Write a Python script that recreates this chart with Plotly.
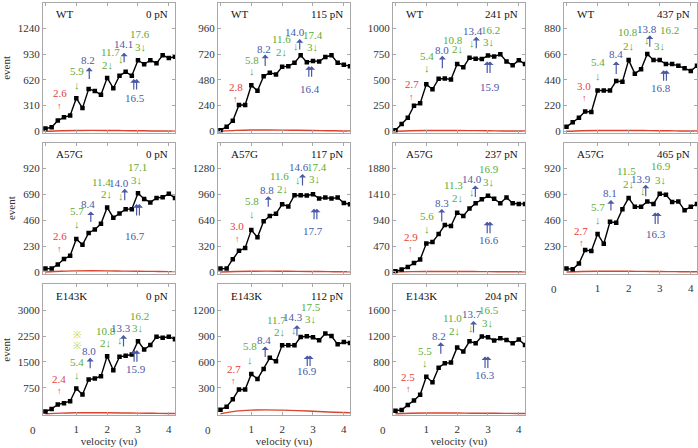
import plotly.graph_objects as go

# ---------------- data ----------------
velocity = [0.0, 0.2, 0.4, 0.6, 0.8, 1.0, 1.2, 1.4, 1.6, 1.8, 2.0, 2.2,
            2.4, 2.6, 2.8, 3.0, 3.2, 3.4, 3.6, 3.8, 4.0, 4.2]
red_velocity = [0.0, 0.5, 1.0, 1.5, 2.0, 2.5, 3.0, 3.5, 4.0, 4.2]

wt_0 = [32, 48, 130, 168, 190, 400, 280, 510, 487, 440, 645, 520, 670, 718, 670, 858, 810, 858, 822, 918, 886, 900]
wt_115 = [9, 43, 98, 246, 246, 430, 378, 514, 548, 532, 603, 609, 640, 711, 646, 658, 652, 695, 711, 640, 621, 609]
wt_241 = [10, 70, 131, 249, 272, 457, 409, 511, 514, 505, 655, 623, 716, 706, 703, 738, 728, 750, 680, 642, 693, 655]
wt_437 = [38, 78, 116, 169, 166, 349, 349, 349, 430, 424, 610, 494, 532, 663, 610, 610, 576, 576, 561, 541, 517, 561]
a57g_0 = [30, 30, 66, 115, 145, 293, 242, 347, 378, 429, 574, 483, 520, 559, 559, 701, 650, 619, 659, 665, 695, 659]
a57g_117 = [42, 42, 158, 262, 296, 521, 429, 629, 692, 721, 838, 812, 950, 950, 946, 962, 908, 921, 908, 921, 854, 838]
a57g_237 = [12, 43, 91, 165, 226, 518, 543, 689, 854, 835, 1079, 1018, 1152, 1250, 1323, 1384, 1329, 1250, 1354, 1250, 1238, 1238]
a57g_465 = [30, 24, 75, 196, 187, 338, 251, 447, 438, 559, 659, 580, 580, 628, 604, 695, 686, 622, 628, 550, 580, 604]
e143k_0 = [63, 140, 266, 305, 363, 731, 556, 992, 1021, 1089, 1670, 1263, 1650, 1680, 1718, 2105, 1863, 1990, 2231, 2202, 2231, 2163]
e143k_112 = [47, 82, 168, 281, 281, 461, 402, 520, 648, 609, 793, 793, 793, 890, 898, 887, 852, 930, 902, 805, 832, 820]
e143k_204 = [47, 58, 136, 204, 293, 571, 487, 712, 780, 791, 1026, 963, 1120, 1089, 1194, 1183, 1131, 1168, 1141, 1089, 1147, 1063]

red_wt_0 = [0, 7, 10, 11, 10, 8, 6, 4, 3, 2]
red_wt_115 = [0, 8, 12, 12, 11, 9, 7, 5, 3, 3]
red_wt_241 = [0, 5, 7, 7, 7, 6, 5, 3, 2, 2]
red_wt_437 = [0, 5, 7, 7, 7, 6, 5, 3, 2, 2]
red_a57g_0 = [0, 7, 10, 11, 10, 8, 6, 5, 3, 3]
red_a57g_117 = [0, 6, 9, 10, 9, 8, 6, 4, 3, 3]
red_a57g_237 = [0, 6, 9, 10, 9, 8, 6, 5, 4, 3]
red_a57g_465 = [0, 4, 6, 6, 6, 5, 4, 3, 2, 2]
red_e143k_0 = [0, 18, 26, 28, 26, 22, 16, 12, 8, 6]
red_e143k_112 = [0, 30, 42, 45, 42, 36, 28, 20, 14, 12]
red_e143k_204 = [0, 7, 10, 11, 10, 8, 7, 5, 4, 3]

genotypes = ["WT", "WT", "WT", "WT", "A57G", "A57G", "A57G", "A57G", "E143K", "E143K", "E143K"]
forces = ["0 pN", "115 pN", "241 pN", "437 pN", "0 pN", "117 pN", "237 pN", "465 pN", "0 pN", "112 pN", "204 pN"]
y_tops = [1550, 1200, 1250, 1100, 1150, 1600, 2350, 1150, 3750, 1500, 2000]
y_steps = [310, 240, 250, 220, 230, 320, 470, 230, 750, 300, 400]

# annotation labels: (text, colour key, velocity, event)
labels = [
    [("2.6", "r", 0.47, 463), ("↑", "r", 0.47, 311), ("5.9", "g", 1.01, 730), ("↓", "g", 1.01, 559),
     ("8.2", "b", 1.39, 858), ("11.7", "g", 2.10, 958), ("2↓", "g", 2.02, 806), ("↓", "g", 2.45, 870),
     ("14.1", "b", 2.53, 1049), ("17.6", "g", 3.08, 1177), ("3↓", "g", 3.08, 1018), ("16.5", "b", 2.91, 399)],
    [("2.8", "r", 0.49, 418), ("↑", "r", 0.49, 302), ("5.8", "g", 1.01, 671), ("↓", "g", 1.01, 563),
     ("8.2", "b", 1.42, 772), ("11.6", "g", 1.97, 862), ("2↓", "g", 1.99, 738), ("↓", "g", 2.46, 800),
     ("14.0", "b", 2.42, 926), ("17.4", "g", 3.0, 902), ("3↓", "g", 3.0, 785), ("16.4", "b", 2.91, 400)],
    [("2.7", "r", 0.52, 457), ("↑", "r", 0.52, 329), ("5.4", "g", 1.01, 735), ("↓", "g", 1.01, 617),
     ("8.0", "b", 1.5, 792), ("10.8", "g", 1.86, 888), ("2↓", "g", 2.02, 799), ("↓", "g", 2.48, 863),
     ("13.4", "b", 2.51, 978), ("16.2", "g", 3.08, 990), ("3↓", "g", 3.02, 872), ("15.9", "b", 3.05, 434)],
    [("3.0", "r", 0.57, 387), ("↑", "r", 0.57, 285), ("5.4", "g", 1.03, 590), ("↓", "g", 1.01, 474),
     ("8.4", "b", 1.6, 663), ("10.8", "g", 1.98, 852), ("2↓", "g", 1.98, 727), ("↓", "g", 2.58, 785),
     ("13.8", "b", 2.59, 881), ("16.2", "g", 3.3, 866), ("3↓", "g", 3.0, 735), ("16.8", "b", 3.04, 372)],
    [("2.6", "r", 0.47, 323), ("↑", "r", 0.47, 202), ("5.7", "g", 1.01, 544), ("↓", "g", 1.01, 423),
     ("8.4", "b", 1.39, 604), ("11.4", "g", 1.83, 801), ("2↓", "g", 1.97, 695), ("↓", "g", 2.46, 680),
     ("14.0", "b", 2.37, 792), ("17.1", "g", 2.97, 937), ("3↓", "g", 2.95, 822), ("16.7", "b", 2.89, 317)],
    [("3.0", "r", 0.52, 575), ("↑", "r", 0.54, 408), ("5.8", "g", 1.01, 875), ("↓", "g", 1.01, 721),
     ("8.8", "b", 1.5, 1012), ("11.6", "g", 1.93, 1188), ("2↓", "g", 2.02, 1033), ("↓", "g", 2.51, 1138),
     ("14.6", "b", 2.53, 1296), ("17.4", "g", 3.13, 1296), ("3↓", "g", 3.04, 1146), ("17.7", "b", 3.0, 513)],
    [("2.9", "r", 0.49, 640), ("↑", "r", 0.49, 409), ("5.6", "g", 1.01, 1018), ("↓", "g", 1.01, 774),
     ("8.3", "b", 1.5, 1250), ("11.3", "g", 1.88, 1585), ("2↓", "g", 2.02, 1341), ("↓", "g", 2.48, 1463),
     ("14.0", "b", 2.48, 1695), ("16.9", "g", 3.02, 1872), ("3↓", "g", 3.02, 1634), ("16.6", "b", 3.02, 579)],
    [("2.7", "r", 0.47, 369), ("↑", "r", 0.47, 257), ("5.7", "g", 1.01, 574), ("↓", "g", 1.01, 459),
     ("8.1", "b", 1.41, 701), ("11.5", "g", 1.93, 897), ("2↓", "g", 1.98, 785), ("↓", "g", 2.45, 719),
     ("13.9", "b", 2.39, 831), ("16.9", "g", 3.04, 943), ("3↓", "g", 3.02, 822), ("16.3", "b", 2.88, 338)],
    [("2.4", "r", 0.45, 1021), ("↑", "r", 0.45, 673), ("※", "y", 1.01, 2309), ("※", "y", 1.01, 1989),
     ("5.4", "g", 1.01, 1505), ("↓", "g", 1.01, 1137), ("8.0", "b", 1.42, 1815), ("10.8", "g", 1.95, 2396),
     ("2↓", "g", 1.95, 2038), ("↓", "g", 2.42, 2134), ("13.3", "b", 2.44, 2473), ("3↓", "g", 2.97, 2473),
     ("16.2", "g", 3.05, 2831), ("15.9", "b", 2.92, 1292)],
    [("2.7", "r", 0.43, 520), ("↑", "r", 0.43, 375), ("5.8", "g", 0.96, 781), ("↓", "g", 0.96, 625),
     ("8.4", "b", 1.42, 852), ("11.7", "g", 1.83, 1086), ("2↓", "g", 1.91, 949), ("↓", "g", 2.39, 969),
     ("14.3", "b", 2.35, 1117), ("17.5", "g", 2.93, 1234), ("3↓", "g", 2.91, 1094), ("16.9", "b", 2.8, 492)],
    [("2.5", "r", 0.41, 571), ("↑", "r", 0.41, 382), ("5.5", "g", 0.96, 974), ("↓", "g", 0.96, 791),
     ("8.2", "b", 1.42, 1209), ("11.0", "g", 1.85, 1482), ("2↓", "g", 1.91, 1272), ("↓", "g", 2.46, 1325),
     ("13.7", "b", 2.48, 1539), ("16.5", "g", 3.02, 1602), ("3↓", "g", 2.97, 1408), ("16.3", "b", 2.91, 597)],
]

# blue arrows: (velocity, event at head, length px, double)
blue_arrows = [
    [(1.42, 770, 13, False), (2.55, 950, 11, False), (2.91, 630, 12, True)],
    [(1.45, 717, 13, False), (2.57, 862, 12, False), (2.91, 609, 12, True)],
    [(1.52, 735, 14, False), (2.62, 920, 13, False), (3.02, 680, 13, True)],
    [(1.6, 599, 14, False), (2.68, 823, 13, False), (3.17, 523, 12, True)],
    [(1.47, 538, 12, False), (2.57, 740, 13, False), (3.0, 604, 13, True)],
    [(1.55, 938, 12, False), (2.66, 1213, 13, False), (3.08, 783, 12, True)],
    [(1.5, 1146, 14, False), (2.59, 1573, 13, False), (3.02, 915, 13, True)],
    [(1.43, 640, 12, False), (2.55, 776, 13, False), (2.9, 529, 13, True)],
    [(1.45, 1621, 12, False), (2.53, 2280, 13, False), (2.92, 1844, 13, True)],
    [(1.45, 781, 12, False), (2.48, 1027, 12, False), (2.86, 676, 12, True)],
    [(1.47, 1105, 13, False), (2.53, 1435, 13, False), (2.95, 885, 13, True)],
]

series = [wt_0, wt_115, wt_241, wt_437, a57g_0, a57g_117, a57g_237, a57g_465, e143k_0, e143k_112, e143k_204]
red_series = [red_wt_0, red_wt_115, red_wt_241, red_wt_437, red_a57g_0, red_a57g_117, red_a57g_237,
              red_a57g_465, red_e143k_0, red_e143k_112, red_e143k_204]

# ---------------- layout ----------------
W, H = 698, 448
col_px = [(43, 175), (218, 350), (393, 525), (564, 697)]
row_px = [(3, 134), (144, 276), (287, 419)]
grid_pos = [(0, 0), (0, 1), (0, 2), (0, 3), (1, 0), (1, 1), (1, 2), (1, 3), (2, 0), (2, 1), (2, 2)]
xlabel_panels = {7, 8, 9, 10}

COL = {"r": "#e53f3a", "g": "#5dab38", "b": "#4a5aa6", "y": "#c6d64c"}
FRAME = "#a8a8a8"
FONT = "Liberation Serif, Times New Roman, DejaVu Serif, serif"
TXT = "#333333"

fig = go.Figure()
annotations = []

for i in range(11):
    n = i + 1
    xa = "x" if n == 1 else f"x{n}"
    ya = "y" if n == 1 else f"y{n}"
    r, c = grid_pos[i]
    x0, x1 = col_px[c]
    y0, y1 = row_px[r]
    R, step = y_tops[i], y_steps[i]
    has_xl = i in xlabel_panels

    fig.add_trace(go.Scatter(x=red_velocity, y=red_series[i], xaxis=xa, yaxis=ya, mode="lines",
                             line=dict(color="#d9452f", width=1.4, shape="spline"), hoverinfo="skip"))
    fig.add_trace(go.Scatter(x=velocity, y=series[i], xaxis=xa, yaxis=ya, mode="lines+markers",
                             line=dict(color="black", width=1.4),
                             marker=dict(symbol="square", size=4.5, color="black")))

    fig.layout[f"xaxis{n if n > 1 else ''}"] = dict(
        domain=[x0 / W, x1 / W], anchor=ya, range=[-0.08, 4.2],
        tickvals=[1, 2, 3, 4] if has_xl else [0, 1, 2, 3, 4], showticklabels=has_xl,
        ticks="inside", ticklen=3, tickcolor=FRAME, showline=True, linecolor=FRAME, linewidth=1,
        mirror="ticks", showgrid=False, zeroline=False, ticklabelstandoff=4,
        tickfont=dict(family=FONT, size=11, color=TXT),
        title=dict(text="velocity (vu)" if r == 2 else "", font=dict(family=FONT, size=11, color=TXT),
                   standoff=1),
    )
    yt = [step * k for k in (range(1, 5) if has_xl else range(0, 5))]
    fig.layout[f"yaxis{n if n > 1 else ''}"] = dict(
        domain=[1 - y1 / H, 1 - y0 / H], anchor=xa, range=[-0.012 * R, R],
        tickvals=yt, ticktext=[str(v) for v in yt],
        ticks="inside", ticklen=3, tickcolor=FRAME, showline=True, linecolor=FRAME, linewidth=1,
        mirror="ticks", showgrid=False, zeroline=False,
        tickfont=dict(family=FONT, size=11, color=TXT),
        title=dict(text="event" if c == 0 else "", font=dict(family=FONT, size=11, color=TXT),
                   standoff=5),
    )

    # panel labels
    annotations.append(dict(xref=f"{xa} domain", yref=f"{ya} domain", x=0.08, y=0.915, text=genotypes[i],
                            showarrow=False, xanchor="left", yanchor="middle",
                            font=dict(family=FONT, size=11, color="#111")))
    annotations.append(dict(xref=f"{xa} domain", yref=f"{ya} domain", x=0.96, y=0.915, text=forces[i],
                            showarrow=False, xanchor="right", yanchor="middle",
                            font=dict(family=FONT, size=11, color="#111")))
    if has_xl:
        annotations.append(dict(xref=f"{xa} domain", yref=f"{ya} domain", x=-0.075, y=0, yshift=-7,
                                text="0", showarrow=False, xanchor="center", yanchor="top",
                                font=dict(family=FONT, size=11, color=TXT)))

    for (txt, ck, vx, vy) in labels[i]:
        size = 9 if (txt == "↑" and ck == "r") else (10 if txt == "※" else 11)
        annotations.append(dict(xref=xa, yref=ya, x=vx, y=vy, text=txt, showarrow=False,
                                xanchor="center", yanchor="middle",
                                font=dict(family=FONT, size=size, color=COL[ck])))
    for (vx, vy, ln, dbl) in blue_arrows[i]:
        shifts = [-1.4, 1.4] if dbl else [0]
        for s in shifts:
            annotations.append(dict(xref=xa, yref=ya, x=vx, y=vy, text="", showarrow=True,
                                    ax=0, ay=ln, arrowhead=1, arrowsize=1, arrowwidth=1.2,
                                    arrowcolor=COL["b"], xshift=s, standoff=0, startstandoff=0))

fig.update_layout(
    width=W, height=H, margin=dict(l=0, r=0, t=0, b=0),
    paper_bgcolor="white", plot_bgcolor="white", showlegend=False,
    annotations=annotations, font=dict(family=FONT),
)

fig.write_html("out.html", config={"displayModeBar": False},
               post_script="document.body.style.margin='0';document.body.style.padding='0';"
                           "document.body.style.overflow='hidden';")
